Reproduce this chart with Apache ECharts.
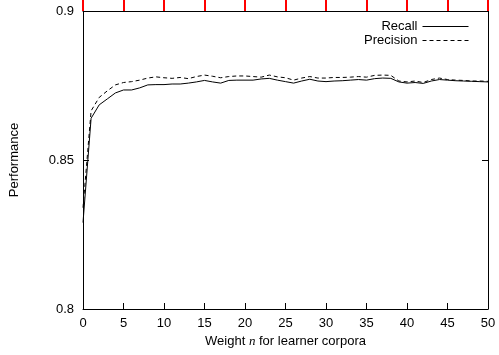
<!DOCTYPE html>
<html>
<head>
<meta charset="utf-8">
<script src="https://cdn.jsdelivr.net/npm/echarts@6/dist/echarts.min.js"></script>
<style>
  html, body { margin: 0; padding: 0; background: #fff; }
  #chart { width: 499px; height: 355px; }
</style>
</head>
<body>
<div id="chart"></div>
<script>
const weights = [0, 1, 2, 3, 4, 5, 6, 7, 8, 9, 10, 11, 12, 13, 14, 15, 16, 17, 18, 19, 20,
  21, 22, 23, 24, 25, 26, 27, 28, 29, 30, 31, 32, 33, 34, 35, 36, 37, 38, 39, 40,
  41, 42, 43, 44, 45, 46, 47, 48, 49, 50];

const recall = [0.829, 0.864, 0.8685, 0.8705, 0.8725, 0.8735, 0.8735, 0.8742, 0.8752, 0.8753, 0.8753,
  0.8755, 0.8755, 0.8758, 0.8762, 0.8767, 0.8762, 0.8758, 0.8767, 0.8768, 0.8768,
  0.8768, 0.8772, 0.8774, 0.8768, 0.8763, 0.8758, 0.8765, 0.8771, 0.8765, 0.8763,
  0.8765, 0.8766, 0.8768, 0.877, 0.8768, 0.8773, 0.8775, 0.8774, 0.8762, 0.8758,
  0.876, 0.8757, 0.8765, 0.877, 0.8768, 0.8766, 0.8765, 0.8764, 0.8763, 0.8762];

const precision = [0.834, 0.8665, 0.871, 0.8732, 0.8752, 0.876, 0.8763, 0.8768, 0.8775, 0.8779, 0.8776,
  0.8774, 0.8777, 0.8773, 0.878, 0.8785, 0.8781, 0.8776, 0.878, 0.8782, 0.8782,
  0.878, 0.8778, 0.8785, 0.8779, 0.8776, 0.8768, 0.8775, 0.878, 0.8775, 0.8775,
  0.8777, 0.8777, 0.8778, 0.878, 0.8778, 0.8784, 0.8785, 0.8784, 0.8765, 0.8762,
  0.8765, 0.876, 0.877, 0.8775, 0.877, 0.8768, 0.8767, 0.8765, 0.8765, 0.8764];

const font = 'Liberation Sans, Arial, sans-serif';

const chart = echarts.init(document.getElementById('chart'));

const axisLine = { show: true, onZero: false, lineStyle: { color: '#000', width: 1 } };
const axisTick = { show: true, inside: true, length: 6, lineStyle: { color: '#000', width: 1 } };

chart.setOption({
  animation: false,
  grid: { left: 83, right: 11, top: 11, bottom: 46, outerBoundsMode: 'none' },
  legend: {
    orient: 'vertical',
    right: 25,
    top: 15,
    align: 'right',
    itemWidth: 46,
    itemHeight: 10,
    itemGap: 1,
    itemStyle: { opacity: 0 },
    lineStyle: { width: 1 },
    textStyle: { fontFamily: font, fontSize: 13, color: '#000' },
    data: ['Recall', 'Precision'],
  },
  xAxis: [
    {
      type: 'value',
      position: 'bottom',
      min: 0,
      max: 50,
      interval: 5,
      splitLine: { show: false },
      axisLine: axisLine,
      axisTick: axisTick,
      name: '{t|Weight }{i|n}{t| for learner corpora}',
      nameLocation: 'middle',
      nameGap: 20,
      nameTextStyle: {
        rich: {
          t: { fontFamily: font, fontSize: 13, color: '#000' },
          i: { fontFamily: 'Liberation Serif, serif', fontStyle: 'italic', fontSize: 13, color: '#000' },
        },
      },
      axisLabel: { fontFamily: font, fontSize: 13, color: '#000', margin: 8 },
    },
    {
      type: 'value',
      position: 'top',
      min: 0,
      max: 50,
      interval: 5,
      splitLine: { show: false },
      axisLine: { show: true, onZero: false, lineStyle: { color: '#000', width: 1 } },
      axisTick: { show: true, inside: false, length: 14, lineStyle: { color: 'red', width: 2 } },
      axisLabel: { show: false },
    },
  ],
  yAxis: [
    {
      type: 'value',
      position: 'left',
      min: 0.8,
      max: 0.9,
      interval: 0.05,
      splitLine: { show: false },
      axisLine: axisLine,
      axisTick: axisTick,
      name: 'Performance',
      nameLocation: 'middle',
      nameGap: 62,
      nameTextStyle: { fontFamily: font, fontSize: 13, color: '#000' },
      axisLabel: {
        fontFamily: font, fontSize: 13, color: '#000', margin: 9,
        formatter: v => String(+v.toFixed(2)),
      },
    },
    {
      type: 'value',
      position: 'right',
      min: 0.8,
      max: 0.9,
      interval: 0.05,
      splitLine: { show: false },
      axisLine: axisLine,
      axisTick: axisTick,
      axisLabel: { show: false },
    },
  ],
  series: [
    {
      name: 'Recall',
      type: 'line',
      symbol: 'none',
      xAxisIndex: 1,
      yAxisIndex: 0,
      data: weights.map((w, i) => [w, recall[i]]),
      lineStyle: { color: '#000', width: 1 },
      itemStyle: { color: '#000' },
    },
    {
      name: 'Precision',
      type: 'line',
      symbol: 'none',
      xAxisIndex: 0,
      yAxisIndex: 1,
      data: weights.map((w, i) => [w, precision[i]]),
      lineStyle: { color: '#000', width: 1, type: [4, 3] },
      itemStyle: { color: '#000' },
    },
  ],
});
</script>
</body>
</html>
